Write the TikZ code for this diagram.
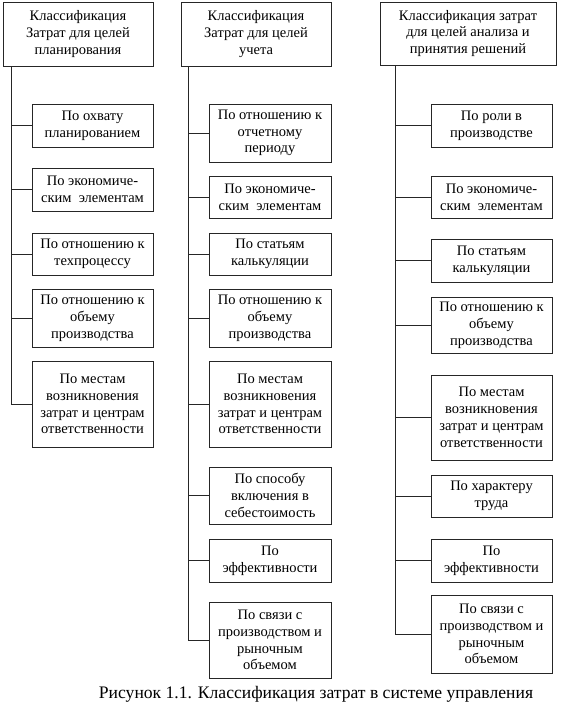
\documentclass[tikz,border=0pt]{standalone}
\usepackage{fontspec}
\setmainfont{Liberation Serif}
\begin{document}
\begin{tikzpicture}[x=1pt,y=-1pt,
  bx/.style={draw=black!85, line width=1pt, align=center, inner sep=0pt,
    font=\fontsize{14.5}{16.8}\selectfont},
  ln/.style={draw=black!85, line width=1pt}]
\useasboundingbox (0,0) rectangle (562,707);
% column 1
\node[bx, minimum width=150pt, minimum height=64pt] (h1) at (78,34) {Классификация\\Затрат для целей\\планирования};
\node[bx, minimum width=121pt, minimum height=43pt] (a1) at (92.5,125.5) {По охвату\\планированием};
\node[bx, minimum width=121pt, minimum height=43pt] (a2) at (92.5,189.5) {По экономиче-\\ским\ \ элементам};
\node[bx, minimum width=121pt, minimum height=42pt] (a3) at (92.5,254) {По отношению к\\техпроцессу};
\node[bx, minimum width=121pt, minimum height=58pt] (a4) at (92.5,318) {По отношению к\\объему\\производства};
\node[bx, minimum width=121pt, minimum height=86pt] (a5) at (92.5,404) {По местам\\возникновения\\затрат и центрам\\ответственности};
\coordinate (t1) at (11,66);
% column 2
\node[bx, minimum width=150pt, minimum height=64pt] (h2) at (256,34) {Классификация\\Затрат для целей\\учета};
\node[bx, minimum width=122pt, minimum height=58pt] (b1) at (270,133) {По отношению к\\отчетному\\периоду};
\node[bx, minimum width=122pt, minimum height=42pt] (b2) at (270,197) {По экономиче-\\ским\ \ элементам};
\node[bx, minimum width=122pt, minimum height=42pt] (b3) at (270,254) {По статьям\\калькуляции};
\node[bx, minimum width=122pt, minimum height=58pt] (b4) at (270,318) {По отношению к\\объему\\производства};
\node[bx, minimum width=122pt, minimum height=86pt] (b5) at (270,404) {По местам\\возникновения\\затрат и центрам\\ответственности};
\node[bx, minimum width=122pt, minimum height=57pt] (b6) at (270,495.5) {По способу\\включения в\\себестоимость};
\node[bx, minimum width=122pt, minimum height=43pt] (b7) at (270,560.5) {По\\эффективности};
\node[bx, minimum width=122pt, minimum height=76pt] (b8) at (270,640) {По связи с\\производством и\\рыночным\\объемом};
\coordinate (t2) at (188,66);
% column 3
\node[bx, minimum width=176pt, minimum height=63pt] (h3) at (468,33.5) {Классификация затрат\\для целей анализа и\\принятия решений};
\node[bx, minimum width=121pt, minimum height=43pt] (c1) at (491.5,125.5) {По роли в\\производстве};
\node[bx, minimum width=121pt, minimum height=42pt] (c2) at (491.5,197) {По экономиче-\\ским\ \ элементам};
\node[bx, minimum width=121pt, minimum height=43pt] (c3) at (491.5,260.5) {По статьям\\калькуляции};
\node[bx, minimum width=121pt, minimum height=56pt] (c4) at (491.5,325) {По отношению к\\объему\\производства};
\node[bx, minimum width=121pt, minimum height=85pt] (c5) at (491.5,417.5) {По местам\\возникновения\\затрат и центрам\\ответственности};
\node[bx, minimum width=121pt, minimum height=42pt] (c6) at (491.5,496) {По характеру\\труда};
\node[bx, minimum width=121pt, minimum height=43pt] (c7) at (491.5,560.5) {По\\эффективности};
\node[bx, minimum width=121pt, minimum height=78pt] (c8) at (491.5,634) {По связи с\\производством и\\рыночным\\объемом};
\coordinate (t3) at (395,65);
% trunks
\draw[ln] (t1) |- (a5.west);
\foreach \n in {a1,a2,a3,a4} \draw[ln] (\n.west) -- (\n.west -| t1);
\draw[ln] (t2) |- (b8.west);
\foreach \n in {b1,b2,b3,b4,b5,b6,b7} \draw[ln] (\n.west) -- (\n.west -| t2);
\draw[ln] (t3) |- (c8.west);
\foreach \n in {c1,c2,c3,c4,c5,c6,c7} \draw[ln] (\n.west) -- (\n.west -| t3);
% caption
\node[font=\fontsize{17.6}{20}\selectfont, inner sep=0pt] (cap) at (316,694) {Рисунок 1.1. Классификация затрат в системе управления};
\end{tikzpicture}
\end{document}
